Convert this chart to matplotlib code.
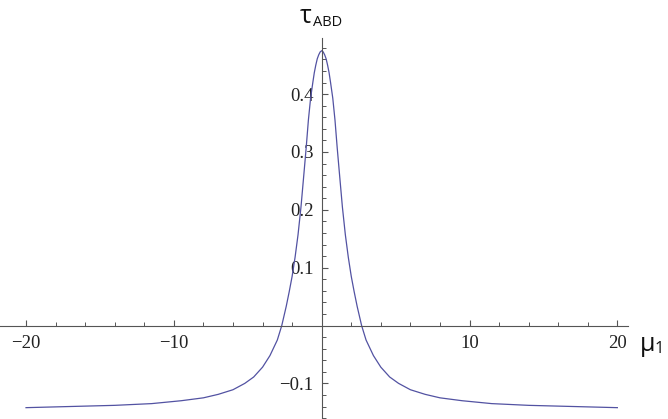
import matplotlib.pyplot as plt
from matplotlib.ticker import MultipleLocator, FixedLocator

# values (curve is symmetric about mu=0)
mu_pos = [0.0, 0.1, 0.2, 0.3, 0.4, 0.5, 0.6, 0.75, 0.9, 1.05, 1.2, 1.4, 1.6, 1.8,
          2.0, 2.2, 2.4, 2.7, 3.0, 3.5, 4.0, 4.6, 5.2, 6.0, 7.0, 8.0, 9.5, 11.5,
          14.0, 17.0, 20.0]
tau_pos = [0.475, 0.473, 0.468, 0.461, 0.450, 0.437, 0.420, 0.393, 0.355, 0.307,
           0.263, 0.205, 0.157, 0.118, 0.085, 0.058, 0.033, 0.000, -0.025, -0.052,
           -0.072, -0.089, -0.100, -0.111, -0.119, -0.125, -0.130, -0.135, -0.138,
           -0.140, -0.142]

mu = [-m for m in mu_pos[::-1]] + mu_pos[1:]
tau = tau_pos[::-1] + tau_pos[1:]

x_ticks = [-20, -10, 10, 20]
y_ticks = [-0.1, 0.1, 0.2, 0.3, 0.4]

W, H = 668, 419
fig = plt.figure(figsize=(W / 100, H / 100), dpi=100)
ax = fig.add_axes([0, 0, 628 / W, (H - 38) / H])

ax.plot(mu, tau, color='#5252a2', lw=0.9)

ax.set_xlim(-21.76, 20.72)
ax.set_ylim(-0.1616, 0.497)

for s in ['top', 'right']:
    ax.spines[s].set_visible(False)
axis_col = '#555555'
ax.spines['left'].set_position(('data', 0))
ax.spines['bottom'].set_position(('data', 0))
for s in ['left', 'bottom']:
    ax.spines[s].set_color(axis_col)
    ax.spines[s].set_linewidth(0.8)

ax.xaxis.set_major_locator(FixedLocator(x_ticks))
ax.xaxis.set_minor_locator(MultipleLocator(2))
ax.yaxis.set_major_locator(FixedLocator(y_ticks))
ax.yaxis.set_minor_locator(MultipleLocator(0.02))
ax.set_xticklabels(['\u221220', '\u221210', '10', '20'])
ax.set_yticklabels(['\u22120.1', '0.1', '0.2', '0.3', '0.4'])

ax.tick_params(axis='x', which='major', direction='in', length=4.5, width=0.8,
               color=axis_col, pad=7)
ax.tick_params(axis='y', which='major', direction='in', length=4.5, width=0.8,
               color=axis_col, pad=6)
ax.tick_params(which='minor', direction='in', length=2.8, width=0.7, color=axis_col)
for lab in ax.get_xticklabels() + ax.get_yticklabels():
    lab.set_family('Liberation Serif')
    lab.set_fontsize(13.5)
    lab.set_color('#222222')

# axis labels as in the reference
fig.text(300 / W, 1 - 23 / H, '\u03c4', fontsize=18, family='Open Sans', color='#111111')
fig.text(313 / W, 1 - 26 / H, 'ABD', fontsize=10.5, family='Open Sans', color='#111111')
fig.text(640 / W, 1 - 351 / H, '\u03bc', fontsize=18, family='Open Sans', color='#111111')
fig.text(655 / W, 1 - 353 / H, '1', fontsize=12, family='Open Sans', color='#111111')

fig.savefig('out.png', dpi=100)
